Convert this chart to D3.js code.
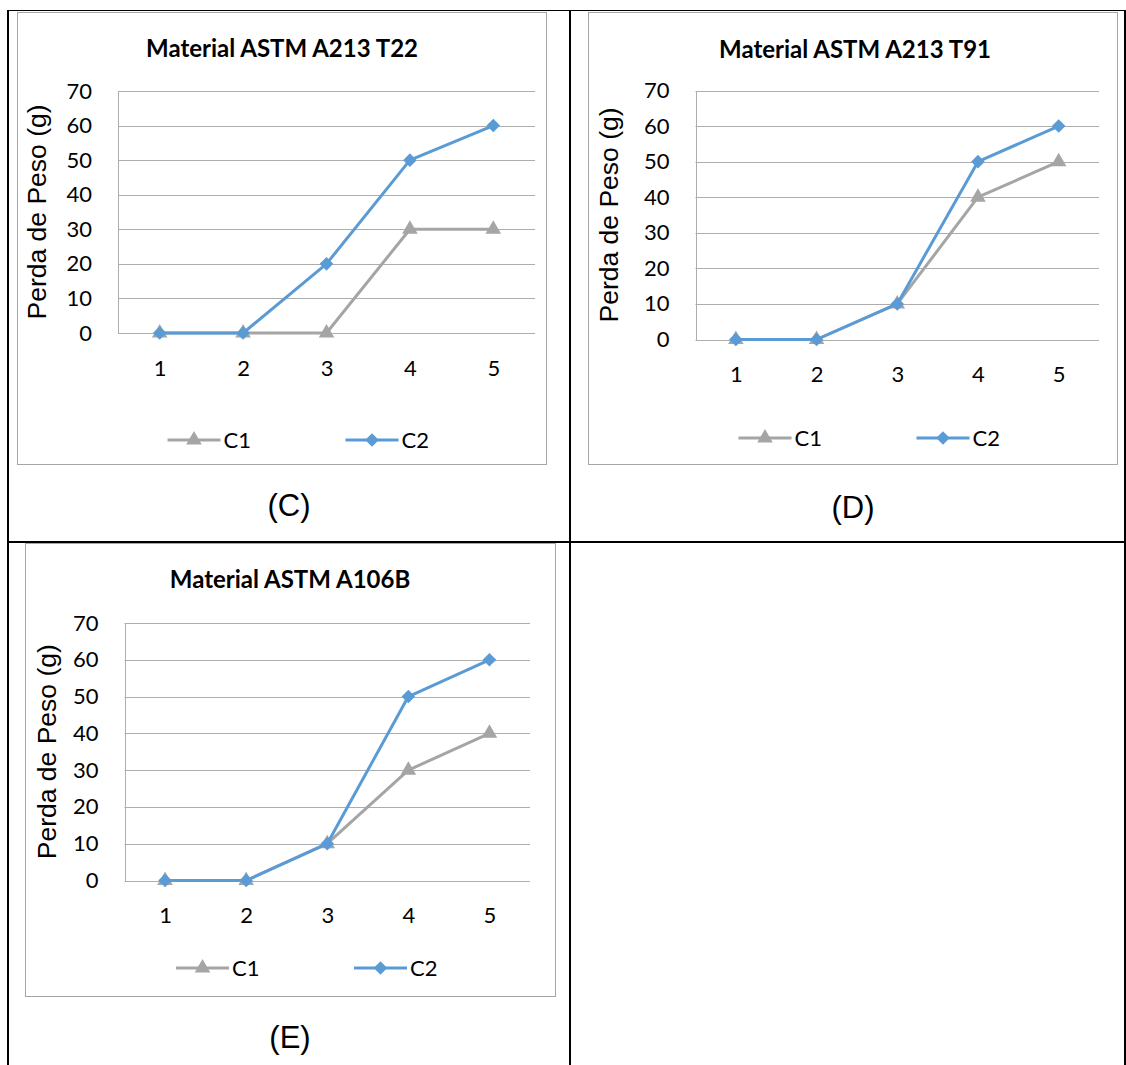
<!DOCTYPE html>
<html>
<head>
<meta charset="utf-8">
<script src="https://cdn.jsdelivr.net/npm/d3@7"></script>
<style>
  body { margin: 0; background: #fff; }
</style>
</head>
<body>
<div id="chart"></div>
<script>
// three small line charts (C, D, E) sitting in a table, Excel style

// data
var categories = ["1", "2", "3", "4", "5"];
var seriesNames = ["C1", "C2"];
var titles = ["Material ASTM A213 T22", "Material ASTM A213 T91", "Material ASTM A106B"];
var panelLabels = ["(C)", "(D)", "(E)"];
var yTicks = [0, 10, 20, 30, 40, 50, 60, 70];
var yTitle = "Perda de Peso (g)";

var t22C1 = [0, 0, 0, 30, 30];
var t22C2 = [0, 0, 20, 50, 60];
var t91C1 = [0, 0, 10, 40, 50];
var t91C2 = [0, 0, 10, 50, 60];
var a106C1 = [0, 0, 10, 30, 40];
var a106C2 = [0, 0, 10, 50, 60];

var panelData = [[t22C1, t22C2], [t91C1, t91C2], [a106C1, a106C2]];

// colors
var colors = ["#a5a5a5", "#5b9bd5"];
var gridColor = "#adadad";

// where each chart goes on the page
var layout = [
    { box: [17, 12, 546, 464], plot: [118, 91, 535, 333], titleX: 282, titleY: 57, yTitleX: 36.5, legendY: 440, labelX: 289, labelY: 505 },
    { box: [588, 12, 1117, 464], plot: [695.5, 90.5, 1099, 339.5], titleX: 855, titleY: 58, yTitleX: 609, legendY: 438, labelX: 853, labelY: 507 },
    { box: [25, 543, 555, 996], plot: [124.5, 623, 530, 880.5], titleX: 290, titleY: 588, yTitleX: 46.5, legendY: 968, labelX: 290, labelY: 1037 }
];

var svg = d3.select("#chart")
    .append("svg")
    .attr("width", 1126)
    .attr("height", 1065);

// table lines
var table = svg.append("g").attr("stroke", "#000");
table.append("line").attr("x1", 8).attr("x2", 1126).attr("y1", 10.5).attr("y2", 10.5).attr("stroke-width", 1.2);
table.append("line").attr("x1", 8).attr("x2", 1126).attr("y1", 542).attr("y2", 542).attr("stroke-width", 2);
table.append("line").attr("x1", 8).attr("x2", 8).attr("y1", 10).attr("y2", 1065).attr("stroke-width", 2);
table.append("line").attr("x1", 570).attr("x2", 570).attr("y1", 10).attr("y2", 1065).attr("stroke-width", 2);
table.append("line").attr("x1", 1125).attr("x2", 1125).attr("y1", 10).attr("y2", 1065).attr("stroke-width", 2);

// symbols for the markers
var triangle = d3.symbol().type(d3.symbolTriangle).size(105);
var diamond = d3.symbol().type(d3.symbolSquare).size(92);

function drawMarker(sel, i) {
    if (i === 0) {
        sel.attr("d", triangle);
    } else {
        sel.attr("d", diamond).attr("transform", function() {
            return d3.select(this).attr("transform") + " rotate(45)";
        });
    }
}

layout.forEach(function(lay, p) {
    var g = svg.append("g");
    var b = lay.box;

    // chart border
    g.append("rect")
        .attr("x", b[0] + 0.5)
        .attr("y", b[1] + 0.5)
        .attr("width", b[2] - b[0])
        .attr("height", b[3] - b[1])
        .attr("fill", "#fff")
        .attr("stroke", "#a6a6a6")
        .attr("stroke-width", 1);

    // scales
    var xScale = d3.scalePoint()
        .domain(categories)
        .range([lay.plot[0], lay.plot[2]])
        .padding(0.5);

    var yScale = d3.scaleLinear()
        .domain([0, 70])
        .range([lay.plot[3], lay.plot[1]]);

    // gridlines
    g.append("g").selectAll("line")
        .data(yTicks)
        .enter().append("line")
        .attr("x1", lay.plot[0])
        .attr("x2", lay.plot[2])
        .attr("y1", function(d) { return Math.round(yScale(d)) + 0.5; })
        .attr("y2", function(d) { return Math.round(yScale(d)) + 0.5; })
        .attr("stroke", gridColor)
        .attr("stroke-width", 1);

    // left axis line
    g.append("line")
        .attr("x1", Math.round(lay.plot[0]) + 0.5)
        .attr("x2", Math.round(lay.plot[0]) + 0.5)
        .attr("y1", Math.round(lay.plot[1]))
        .attr("y2", Math.round(lay.plot[3]) + 0.5)
        .attr("stroke", gridColor);

    // y axis labels
    var leftAxis = d3.axisLeft(yScale).tickValues(yTicks).tickSize(0).tickPadding(26);
    var ya = g.append("g")
        .attr("transform", "translate(" + lay.plot[0] + ",0)")
        .call(leftAxis);
    ya.select(".domain").remove();
    ya.selectAll("text")
        .attr("font-family", "Lato, sans-serif")
        .attr("font-size", 22)
        .attr("fill", "#000");

    // x axis labels
    var bottomAxis = d3.axisBottom(xScale).tickSize(0).tickPadding(27);
    var xa = g.append("g")
        .attr("transform", "translate(0," + lay.plot[3] + ")")
        .call(bottomAxis);
    xa.select(".domain").remove();
    xa.selectAll("text")
        .attr("font-family", "Lato, sans-serif")
        .attr("font-size", 22)
        .attr("fill", "#000");

    // title
    g.append("text")
        .attr("x", lay.titleX)
        .attr("y", lay.titleY)
        .attr("text-anchor", "middle")
        .attr("font-family", "Lato, sans-serif")
        .attr("font-weight", "bold")
        .attr("font-size", 24)
        .text(titles[p]);

    // y axis title
    g.append("text")
        .attr("transform", "translate(" + lay.yTitleX + "," + ((lay.plot[1] + lay.plot[3]) / 2) + ") rotate(-90)")
        .attr("text-anchor", "middle")
        .attr("dominant-baseline", "central")
        .attr("font-family", "'Liberation Sans', Arial, sans-serif")
        .attr("font-size", 26.5)
        .text(yTitle);

    // lines and markers
    var line = d3.line()
        .x(function(d, i) { return xScale(categories[i]); })
        .y(function(d) { return yScale(d); });

    panelData[p].forEach(function(values, s) {
        g.append("path")
            .datum(values)
            .attr("d", line)
            .attr("fill", "none")
            .attr("stroke", colors[s])
            .attr("stroke-width", 3)
            .attr("stroke-linejoin", "round");

        g.append("g").selectAll("path")
            .data(values)
            .enter().append("path")
            .attr("transform", function(d, i) {
                return "translate(" + xScale(categories[i]) + "," + yScale(d) + ")";
            })
            .attr("fill", colors[s])
            .call(drawMarker, s);
    });

    // legend
    var cx = (b[0] + b[2]) / 2;
    var legendX = [cx - 114, cx + 64];
    seriesNames.forEach(function(name, s) {
        var lg = g.append("g").attr("transform", "translate(" + legendX[s] + "," + lay.legendY + ")");
        lg.append("line")
            .attr("x1", 0).attr("x2", 53)
            .attr("stroke", colors[s])
            .attr("stroke-width", 3);
        lg.append("path")
            .attr("transform", "translate(26.5,0)")
            .attr("fill", colors[s])
            .call(drawMarker, s);
        lg.append("text")
            .attr("x", 56)
            .attr("dy", "0.36em")
            .attr("font-family", "Lato, sans-serif")
            .attr("font-size", 22)
            .text(name);
    });

    // panel label under the chart
    svg.append("text")
        .attr("x", lay.labelX)
        .attr("y", lay.labelY)
        .attr("text-anchor", "middle")
        .attr("dominant-baseline", "central")
        .attr("font-family", "'Liberation Sans', Arial, sans-serif")
        .attr("font-size", 31)
        .text(panelLabels[p]);
});
</script>
</body>
</html>
